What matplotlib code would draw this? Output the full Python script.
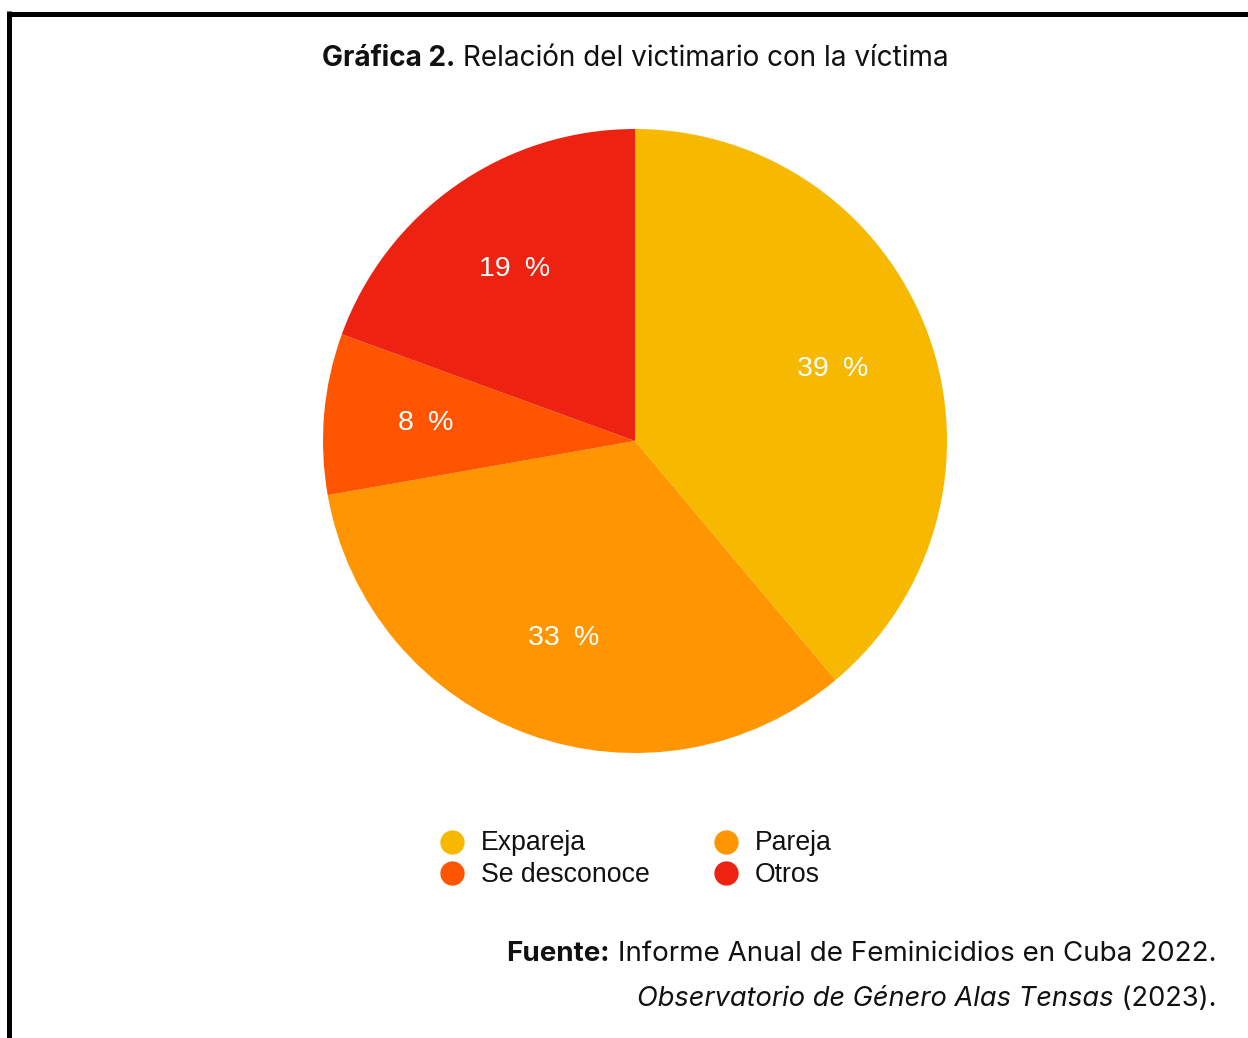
import matplotlib
matplotlib.use("Agg")
import matplotlib.pyplot as plt
from matplotlib.lines import Line2D

categories = ["Expareja", "Pareja", "Se desconoce", "Otros"]
counts = [14, 12, 3, 7]
colors = ["#F6B900", "#FF9500", "#FF5500", "#EE2211"]
title_bold = "Gráfica 2."
title_rest = "Relación del victimario con la víctima"
src_bold = "Fuente:"
src_rest = "Informe Anual de Feminicidios en Cuba 2022."
src2_italic = "Observatorio de Género Alas Tensas"
src2_rest = "(2023)."

W, H = 1248, 1038
fig = plt.figure(figsize=(W / 100, H / 100), dpi=100)
fig.patch.set_facecolor("white")

def fx(px):
    return px / W

def fy(py):
    return 1 - py / H

# Pie
cx, cy, r = 635, 441, 312
ax = fig.add_axes([fx(cx - r), fy(cy + r), 2 * r / W, 2 * r / H])
wedges, texts, autotexts = ax.pie(
    counts, colors=colors, startangle=90, counterclock=False,
    autopct=lambda p: f"{p:.0f}\u2002%", pctdistance=0.673, radius=1,
    textprops=dict(color="white", fontsize=20.5, family=["Liberation Sans", "DejaVu Sans"]),
    wedgeprops=dict(linewidth=0),
)
ax.set_xlim(-1, 1)
ax.set_ylim(-1, 1)
ax.set_aspect("equal")
ax.axis("off")

# Frame lines
fig.add_artist(Line2D([fx(8.5), 1.0], [fy(13.5), fy(13.5)], color="black", lw=3.6,
                      solid_capstyle="butt", transform=fig.transFigure))
fig.add_artist(Line2D([fx(8.5), fx(8.5)], [fy(11), 0.0], color="black", lw=3.6,
                      solid_capstyle="butt", transform=fig.transFigure))

# Legend (manual grid)
leg_pos = {0: (452, 842), 1: (726, 842), 2: (452, 873), 3: (726, 873)}
for i, (lab, col) in enumerate(zip(categories, colors)):
    mx, my = leg_pos[i]
    fig.add_artist(Line2D([fx(mx)], [fy(my)], marker="o", markersize=17.5,
                          markerfacecolor=col, markeredgewidth=0, linestyle="none",
                          transform=fig.transFigure))
    fig.text(fx(mx + 29), fy(my + 1.5), lab, fontsize=19.2, family="Liberation Sans",
             va="center", ha="left", color="#111111")

fig.canvas.draw()
renderer = fig.canvas.get_renderer()

# Title
tfont = "Inter"
tb = fig.text(0, fy(58), title_bold, fontsize=20.1, fontweight="bold", family=tfont,
              va="center", ha="left", color="#111111")
tr = fig.text(0, fy(58), " " + title_rest, fontsize=20.1, family=tfont,
              va="center", ha="left", color="#111111")
wb = tb.get_window_extent(renderer).width
wr = tr.get_window_extent(renderer).width
start = 635 - (wb + wr) / 2
tb.set_x(fx(start))
tr.set_x(fx(start + wb))

# Source line 1
right = 1216
s1r = fig.text(fx(right), fy(954), " " + src_rest, fontsize=20, family=tfont,
               va="center", ha="right", color="#111111")
w1 = s1r.get_window_extent(renderer).width
fig.text(fx(right - w1), fy(954), src_bold, fontsize=20, fontweight="bold", family=tfont,
         va="center", ha="right", color="#111111")

# Source line 2
s2r = fig.text(fx(right), fy(999), " " + src2_rest, fontsize=19.6, family=tfont,
               va="center", ha="right", color="#111111")
w2 = s2r.get_window_extent(renderer).width
fig.text(fx(right - w2), fy(999), src2_italic, fontsize=19.6, style="italic", family=tfont,
         va="center", ha="right", color="#111111")

fig.savefig("out.png", dpi=100, facecolor="white")
